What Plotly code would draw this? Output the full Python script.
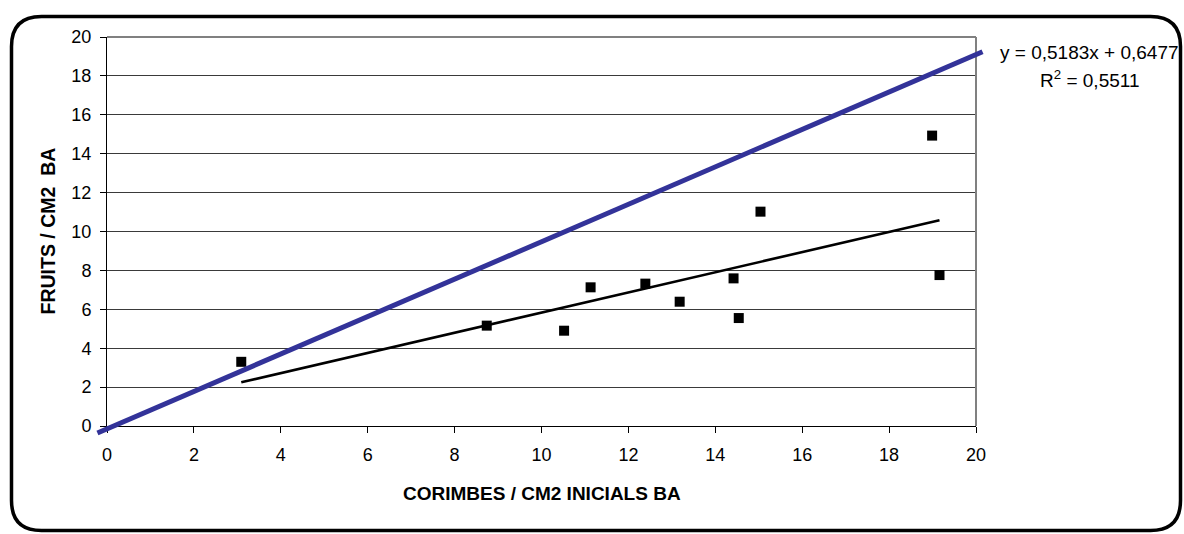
import plotly.graph_objects as go

# Observed data: corymbs per cm2 (initial BA) vs fruits per cm2 (BA)
corimbes = [3.09, 8.74, 10.52, 11.13, 12.39, 13.18, 14.42, 14.54, 15.04, 18.99, 19.16]
fruits = [3.30, 5.16, 4.90, 7.13, 7.32, 6.39, 7.59, 5.55, 11.02, 14.93, 7.76]

# Linear fit reported on the chart
trend_slope = 0.5183
trend_intercept = 0.6477
trend_r2 = 0.5511

# Reference line (drawn across the full plot, slightly past the axes)
ref_line_x = [-0.22, 20.15]
ref_line_y = [-0.36, 19.24]

x_range = [0, 20]
y_range = [0, 20]
x_ticks = list(range(0, 21, 2))
y_ticks = list(range(0, 21, 2))

W, H = 1184, 534
ML, MR, MT, MB = 107, 208, 37, 108
PW, PH = W - ML - MR, H - MT - MB
FONT = "Liberation Sans, Arial, sans-serif"


def px_x(px):
    return (px - ML) / PW


def px_y(py):
    return (H - MB - py) / PH


def dom_x(v):
    return (v - x_range[0]) / (x_range[1] - x_range[0])


def dom_y(v):
    return (v - y_range[0]) / (y_range[1] - y_range[0])


fig = go.Figure()

# Fitted trend line over the observed x-span
tx = [min(corimbes), max(corimbes)]
ty = [trend_slope * v + trend_intercept for v in tx]
fig.add_trace(go.Scatter(x=tx, y=ty, mode="lines",
                         line=dict(color="black", width=2.6),
                         hoverinfo="skip", showlegend=False))

fig.add_trace(go.Scatter(x=corimbes, y=fruits, mode="markers",
                         marker=dict(symbol="square", size=10, color="black",
                                     line=dict(width=0)),
                         showlegend=False))

shapes = []
# gray top/right frame of the plot area
shapes.append(dict(type="line", xref="paper", yref="paper", x0=0, x1=1, y0=1, y1=1,
                   line=dict(color="#808080", width=2)))
shapes.append(dict(type="line", xref="paper", yref="paper", x0=1, x1=1, y0=0, y1=1,
                   line=dict(color="#808080", width=2)))

# blue reference line, mapped through the axis ranges (unclipped)
shapes.append(dict(type="line", xref="x domain", yref="y domain",
                   x0=dom_x(ref_line_x[0]), y0=dom_y(ref_line_y[0]),
                   x1=dom_x(ref_line_x[1]), y1=dom_y(ref_line_y[1]),
                   line=dict(color="#333399", width=5)))

# rounded outer chart border
L, R, T, B, rad = 11.5, 1180.5, 16.5, 530.5, 30
rx, ry = rad / PW, rad / PH
xl, xr, yt, yb = px_x(L), px_x(R), px_y(T), px_y(B)
path = (f"M {xl + rx},{yt} L {xr - rx},{yt} Q {xr},{yt} {xr},{yt - ry} "
        f"L {xr},{yb + ry} Q {xr},{yb} {xr - rx},{yb} "
        f"L {xl + rx},{yb} Q {xl},{yb} {xl},{yb + ry} "
        f"L {xl},{yt - ry} Q {xl},{yt} {xl + rx},{yt} Z")
shapes.append(dict(type="path", xref="paper", yref="paper", path=path,
                   line=dict(color="black", width=3.5)))

eq_text = f"y = {trend_slope:.4f}x + {trend_intercept:.4f}".replace(".", ",")
r2_text = f"R<sup>2</sup> = {trend_r2:.4f}".replace(".", ",")

annotations = [
    dict(text=eq_text, xref="paper", yref="paper", x=px_x(1089), y=px_y(53),
         xanchor="center", yanchor="middle", showarrow=False,
         font=dict(family=FONT, size=19, color="black")),
    dict(text=r2_text, xref="paper", yref="paper", x=px_x(1090), y=px_y(79),
         xanchor="center", yanchor="middle", showarrow=False,
         font=dict(family=FONT, size=19, color="black")),
    dict(text="<b>CORIMBES / CM2 INICIALS BA</b>", xref="paper", yref="paper",
         x=0.5, y=px_y(493), xanchor="center", yanchor="middle", showarrow=False,
         font=dict(family=FONT, size=19, color="black")),
    dict(text="<b>FRUITS / CM2  BA</b>", xref="paper", yref="paper",
         x=px_x(47), y=0.5, xanchor="center", yanchor="middle", showarrow=False,
         textangle=-90, font=dict(family=FONT, size=19.5, color="black")),
]

fig.update_layout(
    width=W, height=H,
    margin=dict(l=ML, r=MR, t=MT, b=MB),
    paper_bgcolor="white", plot_bgcolor="white",
    font=dict(family=FONT, size=18, color="black"),
    shapes=shapes, annotations=annotations,
    xaxis=dict(range=x_range, tickvals=x_ticks, showgrid=False, zeroline=False,
               showline=True, linecolor="black", linewidth=1,
               ticks="outside", ticklen=6, tickcolor="black", tickwidth=1,
               ticklabelstandoff=6, tickfont=dict(size=18)),
    yaxis=dict(range=y_range, tickvals=y_ticks, showgrid=True, gridcolor="#3a3a3a",
               gridwidth=1, zeroline=False,
               showline=True, linecolor="black", linewidth=1,
               ticks="outside", ticklen=6, tickcolor="black", tickwidth=1,
               ticklabelstandoff=5, tickfont=dict(size=18)),
)

fig.write_html("out.html")
